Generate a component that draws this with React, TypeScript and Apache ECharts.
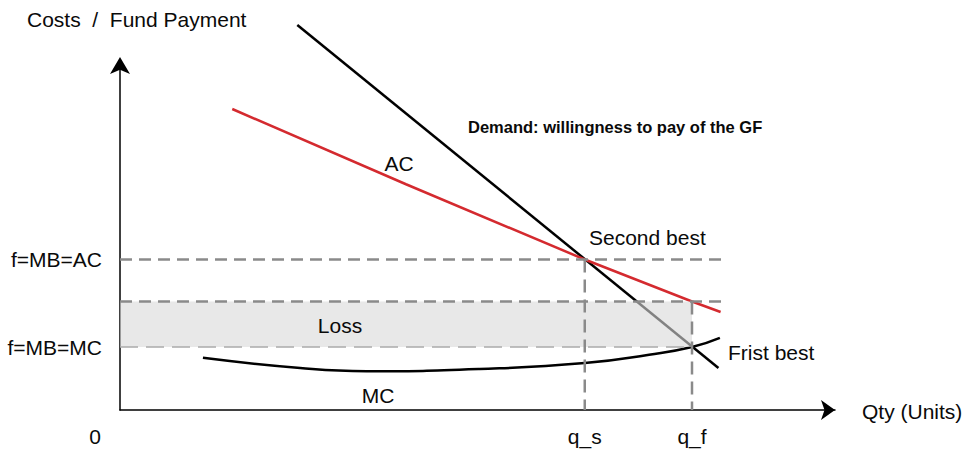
import React, { useEffect, useRef } from "react";
import * as echarts from "echarts";

// Quantity (x) and cost/payment (y) in arbitrary units
const qS = 6.5;
const qF = 8;
const fAC = 4.3;
const fMC = 1.8;
const lossTop = 3.1;

const demandCurve: number[][] = [
  [2.48, 11.0],
  [8.37, 1.2],
];
const acCurve: number[][] = [
  [1.57, 8.6],
  [4.0, 6.45],
  [6.5, 4.3],
  [8.0, 3.1],
  [8.4, 2.8],
];
const mcCurve: number[][] = [
  [1.16, 1.49],
  [2.52, 1.2],
  [3.45, 1.11],
  [5.03, 1.17],
  [6.5, 1.34],
  [7.4, 1.58],
  [8.0, 1.8],
  [8.39, 2.06],
];
const acGuideEnd = 8.5;
const lossGuideEnd = 8.5;

const yTickValues = [fAC, fMC];
const yTickLabels = ["f=MB=AC", "f=MB=MC"];
const xTickValues = [0, qS, qF];
const xTickLabels = ["0", "q_s", "q_f"];

const FONT = "'Liberation Sans', Arial, Helvetica, sans-serif";

export default function App() {
  const ref = useRef<HTMLDivElement>(null);
  useEffect(() => {
    if (!ref.current) return;
    const chart = echarts.init(ref.current, undefined, { renderer: "svg" });
    const dashDark = { color: "#8a8a8a", width: 2.5, type: [12, 7] as any };
    const dashLight = { color: "#aaaaaa", width: 1.5, type: [18, 8] as any };
    const txt = (text: string, x: number, y: number, align: string, extra: any = {}) => ({
      type: "text",
      x,
      y,
      z: 100,
      silent: true,
      style: {
        text,
        fill: "#0a0a0a",
        font: `21px ${FONT}`,
        align,
        verticalAlign: "middle",
        ...extra,
      },
    });
    chart.setOption({
      animation: false,
      backgroundColor: "#ffffff",
      grid: { left: 120, top: 60, width: 715, height: 350, containLabel: false },
      xAxis: {
        type: "value",
        min: 0,
        max: 10,
        splitLine: { show: false },
        axisTick: { show: false },
        axisLine: {
          show: true,
          onZero: false,
          lineStyle: { color: "#000", width: 1.5 },
          symbol: ["none", "arrow"],
          symbolSize: [15, 14],
        },
        axisLabel: {
          customValues: xTickValues,
          margin: 16,
          color: "#0a0a0a",
          fontSize: 21,
          fontFamily: FONT,
          formatter: (v: number) => {
            const i = xTickValues.indexOf(v);
            if (i === 0) return "{z|" + xTickLabels[0] + "}";
            return i >= 0 ? xTickLabels[i] : "";
          },
          rich: { z: { fontSize: 21, fontFamily: FONT, color: "#0a0a0a", padding: [0, 50, 0, 0] } },
        },
      },
      yAxis: {
        type: "value",
        min: 0,
        max: 10,
        splitLine: { show: false },
        axisTick: { show: false },
        axisLine: {
          show: true,
          onZero: false,
          lineStyle: { color: "#000", width: 1.5 },
          symbol: ["none", "arrow"],
          symbolSize: [15, 17],
          symbolOffset: [0, 3],
        },
        axisLabel: {
          customValues: yTickValues,
          margin: 18,
          color: "#0a0a0a",
          fontSize: 21,
          fontFamily: FONT,
          formatter: (v: number) => {
            const i = yTickValues.indexOf(v);
            return i >= 0 ? yTickLabels[i] : "";
          },
        },
      },
      series: [
        {
          name: "Demand",
          type: "line",
          data: demandCurve,
          clip: false,
          showSymbol: false,
          z: 2,
          lineStyle: { color: "#000", width: 2.5 },
        },
        {
          name: "AC",
          type: "line",
          data: acCurve,
          clip: false,
          showSymbol: false,
          z: 3,
          lineStyle: { color: "#d42a2f", width: 2.5 },
        },
        {
          name: "MC",
          type: "line",
          data: mcCurve,
          smooth: 0.5,
          clip: false,
          showSymbol: false,
          z: 3,
          lineStyle: { color: "#000", width: 2.5 },
        },
        {
          name: "Loss",
          type: "line",
          data: [],
          z: 6,
          markArea: {
            silent: true,
            z: 6,
            itemStyle: { color: "#d8d8d8", opacity: 0.6 },
            data: [[{ coord: [0, lossTop] }, { coord: [qF, fMC] }]],
          },
        },
        {
          name: "guideAC",
          type: "line",
          data: [[0, fAC], [acGuideEnd, fAC]],
          showSymbol: false,
          z: 8,
          lineStyle: dashDark,
        },
        {
          name: "guideLossTop",
          type: "line",
          data: [[0, lossTop], [lossGuideEnd, lossTop]],
          showSymbol: false,
          z: 8,
          lineStyle: dashDark,
        },
        {
          name: "guideMC",
          type: "line",
          data: [[0, fMC], [qF, fMC]],
          showSymbol: false,
          z: 8,
          lineStyle: dashLight,
        },
        {
          name: "guideQs",
          type: "line",
          data: [[qS, fAC], [qS, 0]],
          showSymbol: false,
          z: 8,
          lineStyle: { ...dashDark, type: [13, 7] },
        },
        {
          name: "guideQf",
          type: "line",
          data: [[qF, lossTop], [qF, 0]],
          showSymbol: false,
          z: 8,
          lineStyle: { ...dashDark, type: [13, 7] },
        },
      ],
      graphic: [
        txt("Costs  /  Fund Payment", 27, 19, "left"),
        txt("Demand: willingness to pay of the GF", 468, 127, "left", {
          font: `bold 16.5px ${FONT}`,
        }),
        txt("AC", 399, 163, "center"),
        txt("Second best", 589, 237, "left"),
        txt("Loss", 340, 325, "center"),
        txt("Frist best", 728, 352, "left"),
        txt("MC", 378, 395, "center"),
        txt("Qty (Units)", 862, 411, "left"),
      ],
    });
    return () => chart.dispose();
  }, []);
  return <div ref={ref} style={{ width: 966, height: 451, position: "absolute", left: 0, top: 0 }} />;
}
